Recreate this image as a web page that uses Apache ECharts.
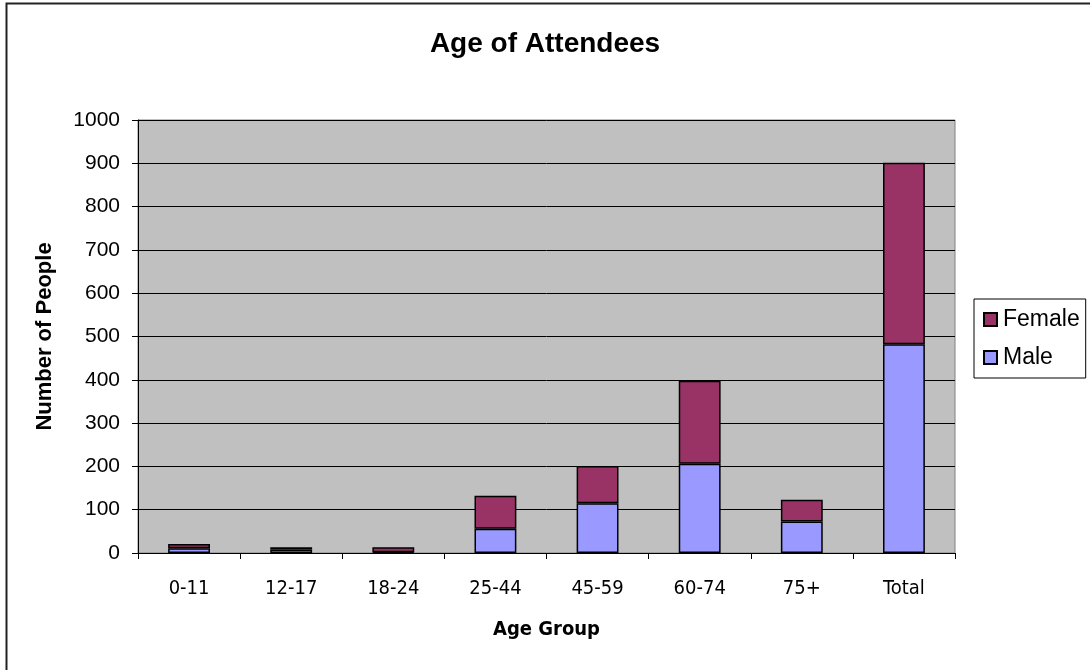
<!DOCTYPE html>
<html>
<head>
<meta charset="utf-8">
<script src="https://cdn.jsdelivr.net/npm/echarts@6/dist/echarts.min.js"></script>
<style>
  html, body { margin: 0; padding: 0; background: #fff; }
  #chart { width: 1090px; height: 670px; }
</style>
</head>
<body>
<div id="chart"></div>
<script>
const ageGroups = ['0-11', '12-17', '18-24', '25-44', '45-59', '60-74', '75+', 'Total'];
const maleCounts = [11, 8, 2, 56, 115, 206, 73, 482];
const femaleCounts = [10, 5, 11, 76, 86, 192, 50, 419];
const yTicks = { min: 0, max: 1000, interval: 100 };

const font = '"Liberation Sans", Arial, sans-serif';
const narrowFont = '"Liberation Sans Narrow", "DejaVu Sans Condensed", "Liberation Sans", sans-serif';

const chart = echarts.init(document.getElementById('chart'));

const option = {
  backgroundColor: '#fff',
  animation: false,
  title: {
    text: 'Age of Attendees',
    left: 'center',
    top: 25,
    textStyle: { fontFamily: font, fontSize: 28, fontWeight: 'bold', color: '#000' }
  },
  graphic: [{
    type: 'rect',
    shape: { x: 6.5, y: 3.5, width: 1200, height: 1000 },
    style: { fill: 'none', stroke: '#222', lineWidth: 2 },
    silent: true
  }],
  legend: {
    orient: 'vertical',
    left: 974,
    top: 299,
    padding: [9, 6, 9, 9],
    itemWidth: 13,
    itemHeight: 13,
    itemGap: 15,
    borderColor: '#000',
    borderWidth: 1,
    backgroundColor: '#fff',
    icon: 'rect',
    data: ['Female', 'Male'],
    textStyle: { fontFamily: font, fontSize: 23, color: '#000', padding: [0, 0, 0, 1] }
  },
  grid: {
    left: 138,
    right: 135,
    top: 120,
    bottom: 117,
    show: true,
    backgroundColor: '#c0c0c0',
    borderColor: '#808080',
    borderWidth: 1
  },
  xAxis: {
    type: 'category',
    data: ageGroups,
    name: 'Age Group',
    nameLocation: 'middle',
    nameGap: 67,
    nameTextStyle: { fontFamily: narrowFont, fontSize: 20, fontWeight: 'bold', color: '#000' },
    axisLine: { lineStyle: { color: '#000', width: 1 } },
    axisTick: { show: true, length: 6, alignWithLabel: false, lineStyle: { color: '#000' } },
    axisLabel: { fontFamily: narrowFont, fontSize: 20, color: '#000', margin: 26 }
  },
  yAxis: {
    type: 'value',
    min: yTicks.min,
    max: yTicks.max,
    interval: yTicks.interval,
    name: 'Number of People',
    nameLocation: 'middle',
    nameGap: 82,
    nameTextStyle: { fontFamily: font, fontSize: 22, fontWeight: 'bold', color: '#000' },
    axisLine: { show: true, lineStyle: { color: '#000', width: 1 } },
    axisTick: { show: true, length: 6, lineStyle: { color: '#000' } },
    axisLabel: { fontFamily: font, fontSize: 21, color: '#000', margin: 18, formatter: v => String(v) },
    splitLine: { lineStyle: { color: '#000', width: 1 } }
  },
  series: [{
    name: 'Male',
    type: 'bar',
    stack: 'people',
    barWidth: '41%',
    data: maleCounts,
    itemStyle: { color: '#9999ff', borderColor: '#000', borderWidth: 1.5 }
  }, {
    name: 'Female',
    type: 'bar',
    stack: 'people',
    barWidth: '41%',
    data: femaleCounts,
    itemStyle: { color: '#993366', borderColor: '#000', borderWidth: 1.5 }
  }]
};

chart.setOption(option);
</script>
</body>
</html>
